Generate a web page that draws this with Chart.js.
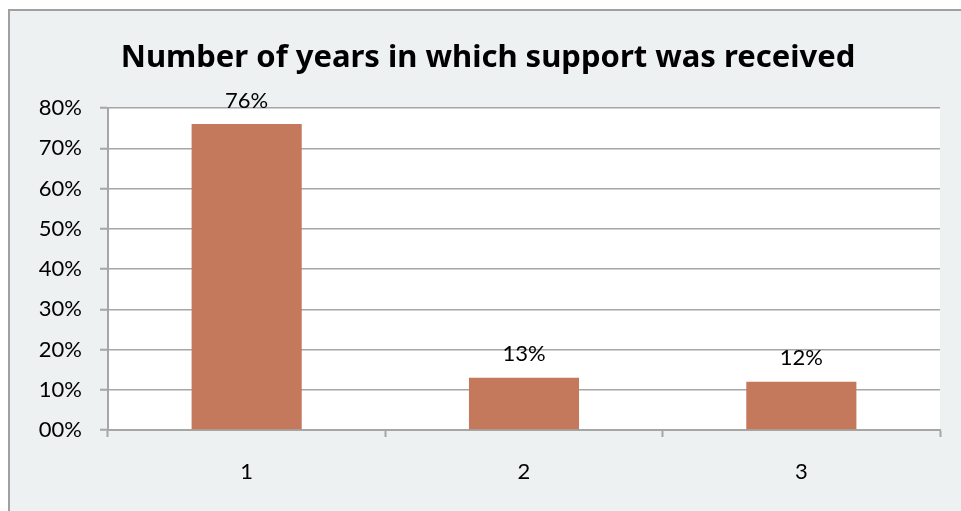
<!DOCTYPE html>
<html>
<head>
<meta charset="utf-8">
<script src="https://cdn.jsdelivr.net/npm/chart.js@4/dist/chart.umd.min.js"></script>
<style>
  html, body { margin: 0; padding: 0; background: #ffffff; }
  #wrap { width: 961px; height: 511px; }
</style>
</head>
<body>
<div id="wrap"><canvas id="chart" width="961" height="511"></canvas></div>
<script>
// Share of recipients by number of years with support (percent)
const categories = ['1', '2', '3'];
const shareValues = [76, 13, 12];
const yTickMax = 80;
const yTickStep = 10;
const chartTitle = 'Number of years in which support was received';

const FONT = 'Lato, "Liberation Sans", sans-serif';
const TITLE_FONT = '"Noto Sans", Lato, sans-serif';
const GRID = '#a6a6a6';
const PANEL = '#edf1f2';

// Panel background, outer frame and white plot area
const panelPlugin = {
  id: 'panel',
  beforeDraw(chart) {
    const { ctx, chartArea: a, width, height } = chart;
    ctx.save();
    ctx.fillStyle = '#ffffff';
    ctx.fillRect(0, 0, width, height);
    ctx.fillStyle = PANEL;
    ctx.fillRect(8, 9, width - 8, height - 9);
    ctx.strokeStyle = '#a0a0a0';
    ctx.lineWidth = 2;
    ctx.beginPath();
    ctx.moveTo(9, height);
    ctx.lineTo(9, 10);
    ctx.lineTo(width, 10);
    ctx.stroke();
    ctx.fillStyle = '#ffffff';
    ctx.fillRect(a.left, a.top, a.right - a.left, a.bottom - a.top);
    ctx.restore();
  }
};

// Value labels above each bar
const valueLabelPlugin = {
  id: 'valueLabels',
  afterDatasetsDraw(chart) {
    const { ctx } = chart;
    const meta = chart.getDatasetMeta(0);
    ctx.save();
    ctx.font = '22px ' + FONT;
    ctx.fillStyle = '#000000';
    ctx.textAlign = 'center';
    ctx.textBaseline = 'alphabetic';
    meta.data.forEach((bar, i) => {
      ctx.fillText(shareValues[i] + '%', bar.x, bar.y - 16.5);
    });
    ctx.restore();
  }
};

new Chart(document.getElementById('chart'), {
  type: 'bar',
  data: {
    labels: categories,
    datasets: [{
      data: shareValues,
      backgroundColor: '#c4785c',
      borderWidth: 0,
      barPercentage: 0.397,
      categoryPercentage: 1
    }]
  },
  options: {
    responsive: false,
    animation: false,
    layout: { padding: { left: 36, right: 21, top: 0, bottom: 0 } },
    plugins: {
      legend: { display: false },
      tooltip: { enabled: false },
      title: {
        display: true,
        text: chartTitle,
        color: '#000000',
        font: { family: TITLE_FONT, size: 31, weight: 'bold', lineHeight: 1 },
        padding: { top: 43, bottom: 34 }
      }
    },
    scales: {
      x: {
        offset: true,
        grid: {
          offset: true,
          drawOnChartArea: false,
          drawTicks: true,
          tickLength: 7,
          tickWidth: 2,
          tickColor: GRID
        },
        border: { display: true, color: GRID, width: 2 },
        ticks: {
          color: '#000000',
          padding: 22,
          font: { family: FONT, size: 22 }
        },
        afterFit(scale) { scale.height = 81; }
      },
      y: {
        min: 0,
        max: yTickMax,
        grid: {
          color: GRID,
          lineWidth: 1.5,
          drawTicks: true,
          tickLength: 8,
          tickWidth: 2,
          tickColor: GRID
        },
        border: { display: true, color: GRID, width: 2 },
        ticks: {
          stepSize: yTickStep,
          color: '#000000',
          padding: 18,
          font: { family: FONT, size: 22 },
          callback: (v) => String(v).padStart(2, '0') + '%'
        },
        afterFit(scale) { scale.width = 72; }
      }
    }
  },
  plugins: [panelPlugin, valueLabelPlugin]
});
</script>
</body>
</html>
